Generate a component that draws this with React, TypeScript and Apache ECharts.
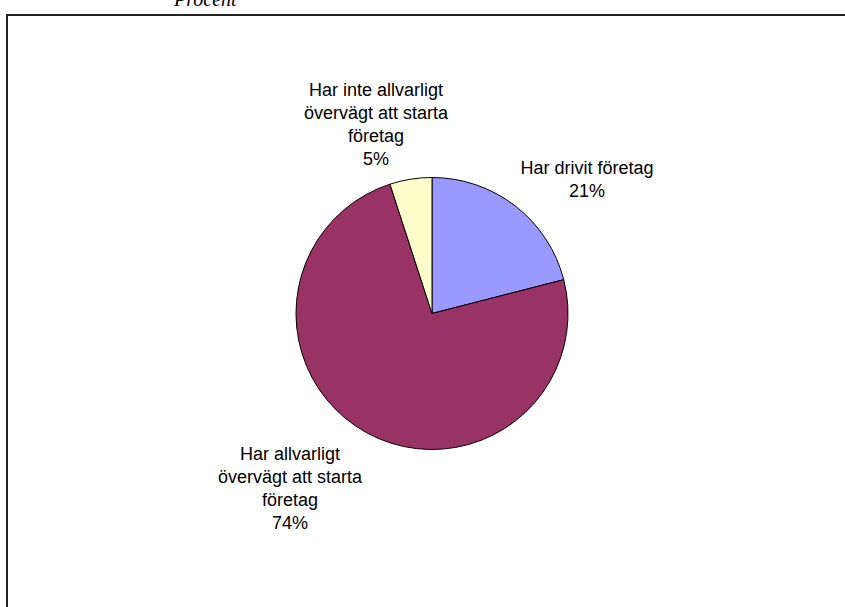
import React, { useEffect, useRef } from "react";
import * as echarts from "echarts";

const categories = [
  "Har drivit företag",
  "Har allvarligt\növervägt att starta\nföretag",
  "Har inte allvarligt\növervägt att starta\nföretag",
];
const values = [21, 74, 5];
const colors = ["#9999FF", "#993366", "#FFFFCC"];
// label block centres (px) for each slice, as placed in the reference
const labelPos = [
  [587, 179],
  [290, 488],
  [376, 124],
];

export default function App() {
  const ref = useRef<HTMLDivElement>(null);
  useEffect(() => {
    document.body.style.margin = "0";
    const chart = echarts.init(ref.current!, null, { renderer: "svg" });
    chart.setOption({
      animation: false,
      backgroundColor: "#ffffff",
      graphic: [
        {
          type: "rect",
          shape: { x: 7, y: 15, width: 860, height: 620 },
          style: { fill: "none", stroke: "#222", lineWidth: 2 },
          silent: true,
        },
        {
          type: "text",
          x: 174,
          y: 9,
          style: {
            text: "Procent",
            font: "italic 20px 'Liberation Serif', 'Times New Roman', serif",
            fill: "#000",
            verticalAlign: "bottom",
          },
        },
      ],
      series: [
        {
          type: "pie",
          center: [432, 313.5],
          radius: 136,
          startAngle: 90,
          clockwise: true,
          data: categories.map((name, i) => ({
            name,
            value: values[i],
            itemStyle: { color: colors[i] },
          })),
          itemStyle: { borderColor: "#000", borderWidth: 1 },
          label: {
            show: true,
            position: "outside",
            formatter: (p: any) => `${p.name}\n${p.value}%`,
            fontFamily: "'Liberation Sans', Arial, sans-serif",
            fontSize: 18,
            lineHeight: 23,
            color: "#000",
            align: "center",
          },
          labelLine: { show: false },
          labelLayout: (params: any) => {
            const pos = labelPos[params.dataIndex];
            return {
              x: pos[0],
              y: pos[1],
              align: "center",
              verticalAlign: "middle",
            };
          },
          emphasis: { disabled: true },
        },
      ],
    });
    return () => chart.dispose();
  }, []);
  return (
    <div
      ref={ref}
      style={{ position: "fixed", left: 0, top: 0, width: 845, height: 607 }}
    />
  );
}
